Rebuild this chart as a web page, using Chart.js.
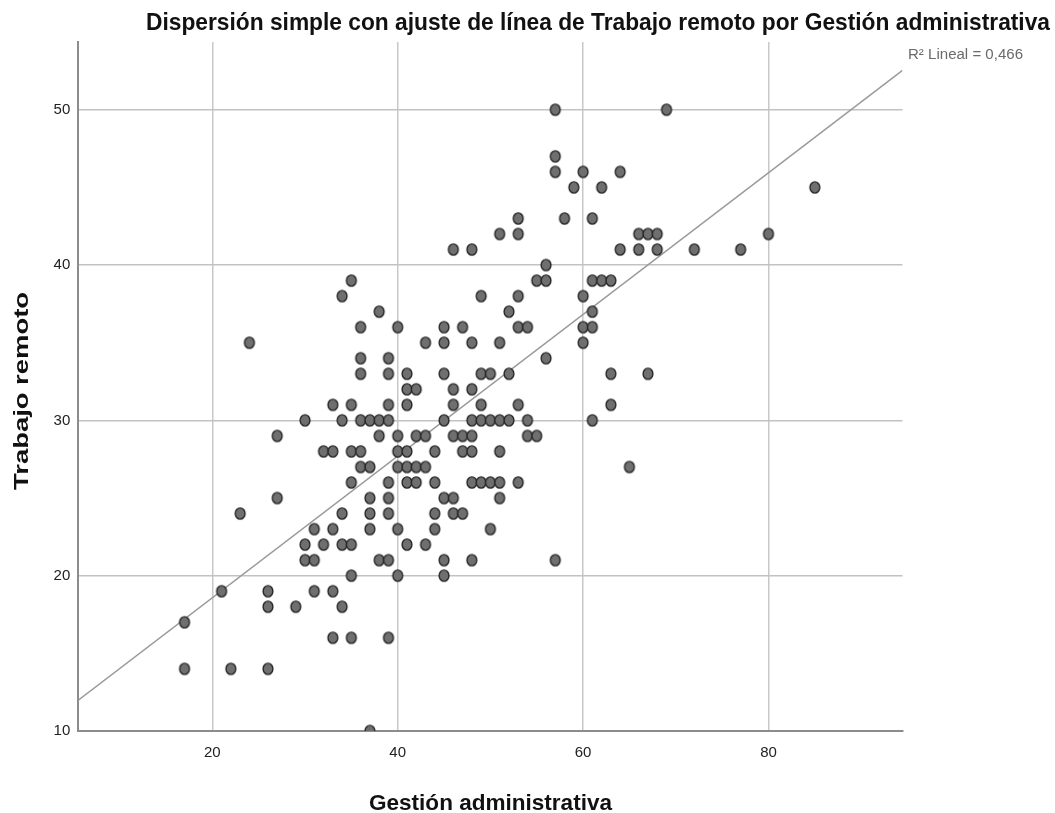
<!DOCTYPE html>
<html>
<head>
<meta charset="utf-8">
<script src="https://cdn.jsdelivr.net/npm/chart.js@4/dist/chart.umd.min.js"></script>
<style>
  html, body { margin: 0; padding: 0; background: #ffffff; }
  #wrap { width: 1055px; height: 813px; }
</style>
</head>
<body>
<div id="wrap"><canvas id="scatter" width="1055" height="813"></canvas></div>
<script>
// data
var gestion = [
  17,17, 21, 22, 23, 24, 26,26,26, 27,27, 29,
  30,30,30, 31,31,31, 32,32,
  33,33,33,33,33, 34,34,34,34,34,
  35,35,35,35,35,35,35, 36,36,36,36,36,36,
  37,37,37,37,37,37, 38,38,38,38,
  39,39,39,39,39,39,39,39,39, 40,40,40,40,40,40,
  41,41,41,41,41,41,41, 42,42,42,42, 43,43,43,43, 44,44,44,44,
  45,45,45,45,45,45,45, 46,46,46,46,46,46, 47,47,47,47,
  48,48,48,48,48,48,48,48, 49,49,49,49,49, 50,50,50,50,
  51,51,51,51,51,51, 52,52,52, 53,53,53,53,53,53, 54,54,54,
  55,55, 56,56,56, 57,57,57,57, 58, 59, 60,60,60,60,
  61,61,61,61,61, 62,62, 63,63,63, 64,64, 65, 66,66, 67,67, 68,68,
  69, 72, 77, 80, 85
];
var trabajo = [
  17,14, 19, 14, 24, 35, 19,18,14, 29,25, 18,
  30,22,21, 23,21,19, 28,22,
  31,28,23,19,16, 38,30,24,22,18,
  39,31,28,26,22,20,16, 36,34,33,30,28,27,
  30,27,25,24,23,10, 37,30,29,21,
  34,33,31,30,26,25,24,21,16, 36,29,28,27,23,20,
  33,32,31,28,27,26,22, 32,29,27,26, 35,29,27,22, 28,26,24,23,
  36,35,33,30,25,21,20, 41,32,31,29,25,24, 36,29,28,24,
  41,35,32,30,29,28,26,21, 38,33,31,30,26, 33,30,26,23,
  42,35,30,28,26,25, 37,33,30, 43,42,38,36,31,26, 36,30,29,
  39,29, 40,39,34, 50,47,46,21, 43, 45, 46,38,36,35,
  43,39,37,36,30, 45,39, 39,33,31, 46,41, 27, 42,41, 42,33, 42,41,
  50, 41, 41, 42, 45
];
var xTicks = [20, 40, 60, 80];
var yTicks = [10, 20, 30, 40, 50];

var titulo = 'Dispersión simple con ajuste de línea de Trabajo remoto por Gestión administrativa';
var tituloX = 'Gestión administrativa';
var tituloY = 'Trabajo remoto';
var etiquetaR2 = 'R² Lineal = 0,466';

var xMin = 5.54, xMax = 94.46, yMin = 10, yMax = 54.36;

// least squares fit line
function ajuste(xs, ys) {
  var n = xs.length, sx = 0, sy = 0, sxx = 0, sxy = 0;
  for (var i = 0; i < n; i++) {
    sx += xs[i]; sy += ys[i]; sxx += xs[i] * xs[i]; sxy += xs[i] * ys[i];
  }
  var b = (n * sxy - sx * sy) / (n * sxx - sx * sx);
  var a = (sy - b * sx) / n;
  return { a: a, b: b };
}
var fit = ajuste(gestion, trabajo);

var puntos = gestion.map(function (g, i) { return { x: g, y: trabajo[i] }; });
var linea = [
  { x: xMin, y: fit.a + fit.b * xMin },
  { x: xMax, y: fit.a + fit.b * xMax }
];

// slightly oval marker like the original
function marcador() {
  var c = document.createElement('canvas');
  c.width = 14; c.height = 15;
  var g = c.getContext('2d');
  g.beginPath();
  g.ellipse(7, 7.5, 4.9, 5.6, 0, 0, Math.PI * 2);
  g.fillStyle = '#6f6f6f';
  g.fill();
  g.lineWidth = 1.4;
  g.strokeStyle = '#262626';
  g.stroke();
  return c;
}

function textoAjustado(ctx, text, font, color, x, y, width, angle) {
  ctx.save();
  ctx.font = font;
  ctx.fillStyle = color;
  ctx.textAlign = 'center';
  ctx.textBaseline = 'alphabetic';
  var w = ctx.measureText(text).width;
  ctx.translate(x, y);
  if (angle) ctx.rotate(angle);
  ctx.scale(width / w, 1);
  ctx.fillText(text, 0, 0);
  ctx.restore();
}

var textos = {
  id: 'textos',
  afterDraw: function (chart) {
    var ctx = chart.ctx;
    textoAjustado(ctx, titulo, 'bold 24px "Liberation Sans", Arial, sans-serif', '#111', 598, 29.5, 904);
    textoAjustado(ctx, tituloX, 'bold 22px "Liberation Sans", Arial, sans-serif', '#111', 490.5, 810, 243);
    textoAjustado(ctx, tituloY, 'bold 19.5px "Liberation Sans", Arial, sans-serif', '#111', 27.5, 391, 198, -Math.PI / 2);
    textoAjustado(ctx, etiquetaR2, '14px "Liberation Sans", Arial, sans-serif', '#6a6a6a', 965.5, 59, 115);
  }
};

var ctx = document.getElementById('scatter').getContext('2d');
var chart = new Chart(ctx, {
  type: 'scatter',
  data: {
    datasets: [
      {
        label: 'puntos',
        data: puntos,
        pointStyle: marcador(),
        pointRadius: 6,
        order: 1
      },
      {
        type: 'line',
        label: 'ajuste',
        data: linea,
        borderColor: '#9a9a9a',
        borderWidth: 1.5,
        pointRadius: 0,
        fill: false,
        order: 2
      }
    ]
  },
  options: {
    responsive: false,
    animation: false,
    devicePixelRatio: 1,
    layout: { padding: { left: 0, top: 42, right: 152.5, bottom: 0 } },
    plugins: {
      legend: { display: false },
      tooltip: { enabled: false },
      title: { display: false }
    },
    scales: {
      x: {
        type: 'linear',
        min: xMin,
        max: xMax,
        afterFit: function (s) { s.height = 82; },
        afterBuildTicks: function (s) { s.ticks = xTicks.map(function (v) { return { value: v }; }); },
        ticks: {
          includeBounds: false,
          padding: 13,
          color: '#222',
          font: { family: '"Liberation Sans", Arial, sans-serif', size: 15 }
        },
        grid: { color: '#c8c8c8', lineWidth: 1.5, drawTicks: false },
        border: { display: true, color: '#8c8c8c', width: 2 }
      },
      y: {
        type: 'linear',
        min: yMin,
        max: yMax,
        afterFit: function (s) { s.width = 78.3; },
        afterBuildTicks: function (s) { s.ticks = yTicks.map(function (v) { return { value: v }; }); },
        ticks: {
          includeBounds: false,
          padding: 8,
          color: '#222',
          font: { family: '"Liberation Sans", Arial, sans-serif', size: 15 }
        },
        grid: { color: '#c2c2c2', lineWidth: 1.5, drawTicks: false },
        border: { display: true, color: '#8c8c8c', width: 2 }
      }
    }
  },
  plugins: [textos]
});
</script>
</body>
</html>
